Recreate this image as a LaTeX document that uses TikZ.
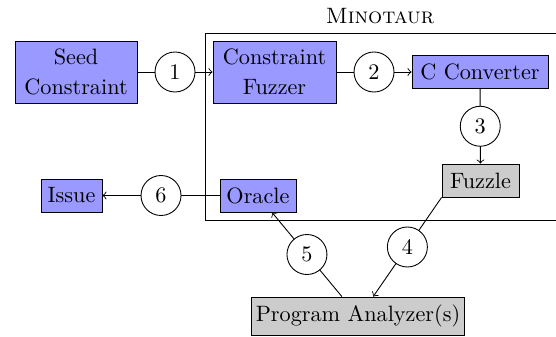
\documentclass[tikz,border=0pt]{standalone}
\begin{document}
\begin{tikzpicture}[x=0.45pt,y=-0.45pt,
  part/.style={draw,fill=blue!40,minimum height=14.85pt,inner sep=2pt},
  tool/.style={draw,fill=gray!40,minimum height=14.85pt,inner sep=2pt},
  num/.style={draw,circle,fill=white,minimum size=18pt,inner sep=0pt}]
\useasboundingbox (0,0) rectangle (556,337);
\draw (205,33) rectangle (562,220);
\node (title) at (380,16) {\textsc{Minotaur}};
\node[part,align=center,minimum width=54.9pt,minimum height=27.9pt] (seed) at (76,72) {Seed\\[1.5pt]Constraint};
\node[part,align=center,minimum width=55.35pt,minimum height=27.9pt] (fuzzer) at (274.5,72) {Constraint\\[1.5pt]Fuzzer};
\node[part,minimum width=61.2pt] (conv) at (480,72) {C Converter};
\node[tool,minimum width=34.65pt] (fuzzle) at (480.5,180.5) {Fuzzle};
\node[part,minimum width=34.2pt] (oracle) at (258,195.5) {Oracle};
\node[part,minimum width=27.45pt] (issue) at (71.5,195.5) {Issue};
\node[tool,minimum height=17.1pt] (analyzer) at (358,316) {Program Analyzer(s)};
\draw[->] (seed) -- node[num] {1} (fuzzer);
\draw[->] (fuzzer) -- node[num] {2} (conv);
\draw[->] (conv) -- node[num] {3} (fuzzle);
\draw[->] (fuzzle.south west) -- node[num] {4} (analyzer.52);
\draw[->] (analyzer) -- node[num] {5} (oracle);
\draw[->] (oracle) -- node[num] {6} (issue);
\end{tikzpicture}
\end{document}
